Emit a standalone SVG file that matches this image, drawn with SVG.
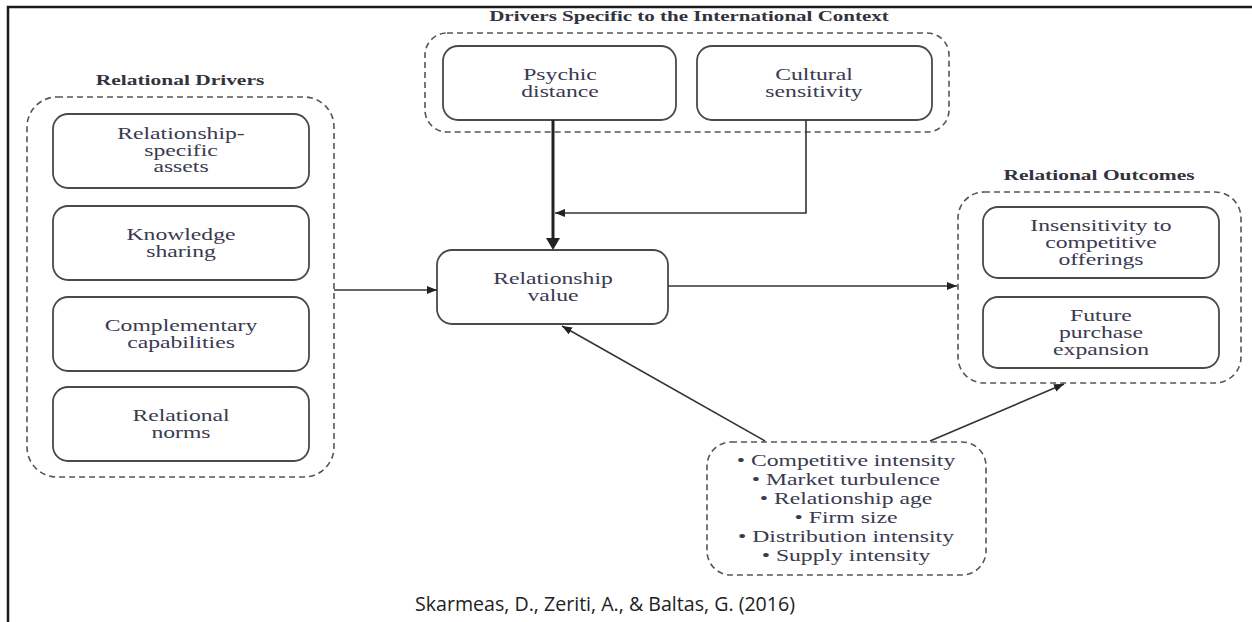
<svg xmlns="http://www.w3.org/2000/svg" width="1252" height="622" viewBox="0 0 1252 622">
  <style>
    .frame { fill: none; stroke: #1a1a1a; stroke-width: 2.5; }
    .group { fill: none; stroke: #555; stroke-width: 1.6; stroke-dasharray: 6 4; }
    .box { fill: #fff; stroke: #4a4a4a; stroke-width: 1.8; }
    .title { font-family: "Liberation Serif", serif; font-weight: bold; font-size: 14.5px; fill: #333340; text-anchor: middle; }
    .lbl { font-family: "Liberation Serif", serif; font-size: 16px; fill: #3a3a50; text-anchor: middle; }
    .item { font-family: "Liberation Serif", serif; font-size: 16px; fill: #3a3a50; text-anchor: middle; }
    .cite { font-family: "Open Sans", sans-serif; font-size: 19.6px; fill: #222; text-anchor: middle; }
    .wire { fill: none; stroke: #333; stroke-width: 1.6; }
    .thick { fill: none; stroke: #222; stroke-width: 3; }
  </style>
  <defs>
    <marker id="arrow" viewBox="0 0 10 8" refX="10" refY="4" markerWidth="10" markerHeight="8" markerUnits="userSpaceOnUse" orient="auto">
      <path d="M0,0 L10,4 L0,8 z" fill="#222"/>
    </marker>
  </defs>

  <rect width="1252" height="622" fill="#fff"/>
  <!-- page frame: top and left rules -->
  <path class="frame" d="M8,622 V7 H1252"/>

  <!-- the figure's serif type is set wide: each label is scaled 1.48x horizontally about its centre -->

  <!-- international context drivers -->
  <g id="intl-drivers">
    <text class="title" transform="translate(689,21) scale(1.45,1)">Drivers Specific to the International Context</text>
    <rect class="group" x="425" y="33" width="524" height="99" rx="22"/>
  </g>
  <g id="psychic-distance">
    <rect class="box" x="443" y="46" width="233" height="74" rx="15"/>
    <text class="lbl" transform="translate(560,80) scale(1.48,1)">Psychic</text>
    <text class="lbl" transform="translate(560,97) scale(1.48,1)">distance</text>
  </g>
  <g id="cultural-sensitivity">
    <rect class="box" x="697" y="46" width="235" height="74" rx="15"/>
    <text class="lbl" transform="translate(814,80) scale(1.48,1)">Cultural</text>
    <text class="lbl" transform="translate(814,97) scale(1.48,1)">sensitivity</text>
  </g>

  <!-- relational drivers -->
  <g id="relational-drivers">
    <text class="title" transform="translate(180,85) scale(1.48,1)">Relational Drivers</text>
    <rect class="group" x="27" y="97" width="307" height="380" rx="30"/>
  </g>
  <g id="specific-assets">
    <rect class="box" x="53" y="114" width="256" height="74" rx="15"/>
    <text class="lbl" transform="translate(181,139) scale(1.48,1)">Relationship-</text>
    <text class="lbl" transform="translate(181,156) scale(1.48,1)">specific</text>
    <text class="lbl" transform="translate(181,172) scale(1.48,1)">assets</text>
  </g>
  <g id="knowledge-sharing">
    <rect class="box" x="53" y="206" width="256" height="74" rx="15"/>
    <text class="lbl" transform="translate(181,240) scale(1.48,1)">Knowledge</text>
    <text class="lbl" transform="translate(181,257) scale(1.48,1)">sharing</text>
  </g>
  <g id="complementary-capabilities">
    <rect class="box" x="53" y="297" width="256" height="74" rx="15"/>
    <text class="lbl" transform="translate(181,331) scale(1.48,1)">Complementary</text>
    <text class="lbl" transform="translate(181,348) scale(1.48,1)">capabilities</text>
  </g>
  <g id="relational-norms">
    <rect class="box" x="53" y="387" width="256" height="74" rx="15"/>
    <text class="lbl" transform="translate(181,421) scale(1.48,1)">Relational</text>
    <text class="lbl" transform="translate(181,438) scale(1.48,1)">norms</text>
  </g>

  <!-- central construct -->
  <g id="relationship-value">
    <rect class="box" x="437" y="250" width="231" height="74" rx="15"/>
    <text class="lbl" transform="translate(553,284) scale(1.48,1)">Relationship</text>
    <text class="lbl" transform="translate(553,301) scale(1.48,1)">value</text>
  </g>

  <!-- outcomes -->
  <g id="relational-outcomes">
    <text class="title" transform="translate(1099,180) scale(1.48,1)">Relational Outcomes</text>
    <rect class="group" x="958" y="192" width="283" height="191" rx="26"/>
  </g>
  <g id="insensitivity">
    <rect class="box" x="983" y="207" width="236" height="71" rx="15"/>
    <text class="lbl" transform="translate(1101,231) scale(1.48,1)">Insensitivity to</text>
    <text class="lbl" transform="translate(1101,248) scale(1.48,1)">competitive</text>
    <text class="lbl" transform="translate(1101,265) scale(1.48,1)">offerings</text>
  </g>
  <g id="future-purchase">
    <rect class="box" x="983" y="297" width="236" height="71" rx="15"/>
    <text class="lbl" transform="translate(1101,321) scale(1.48,1)">Future</text>
    <text class="lbl" transform="translate(1101,338) scale(1.48,1)">purchase</text>
    <text class="lbl" transform="translate(1101,355) scale(1.48,1)">expansion</text>
  </g>

  <!-- control variables -->
  <g id="controls">
    <rect class="group" x="707" y="442" width="279" height="133" rx="24"/>
    <text class="item" transform="translate(846,466) scale(1.48,1)">• Competitive intensity</text>
    <text class="item" transform="translate(846,485) scale(1.48,1)">• Market turbulence</text>
    <text class="item" transform="translate(846,504) scale(1.48,1)">• Relationship age</text>
    <text class="item" transform="translate(846,523) scale(1.48,1)">• Firm size</text>
    <text class="item" transform="translate(846,542) scale(1.48,1)">• Distribution intensity</text>
    <text class="item" transform="translate(846,561) scale(1.48,1)">• Supply intensity</text>
  </g>

  <!-- connectors -->
  <g id="connectors">
    <line class="thick" x1="553" y1="120" x2="553" y2="240"/>
    <path d="M546,238 L553,250 L560,238 z" fill="#222"/>
    <path class="wire" d="M806,120 V213 H555" marker-end="url(#arrow)"/>
    <line class="wire" x1="334" y1="290" x2="437" y2="290" marker-end="url(#arrow)"/>
    <line class="wire" x1="668" y1="286" x2="957" y2="286" marker-end="url(#arrow)"/>
    <line class="wire" x1="765" y1="441" x2="562" y2="326" marker-end="url(#arrow)"/>
    <line class="wire" x1="930" y1="441" x2="1064" y2="384" marker-end="url(#arrow)"/>
  </g>

  <text class="cite" x="605" y="611">Skarmeas, D., Zeriti, A., &amp; Baltas, G. (2016)</text>
</svg>
